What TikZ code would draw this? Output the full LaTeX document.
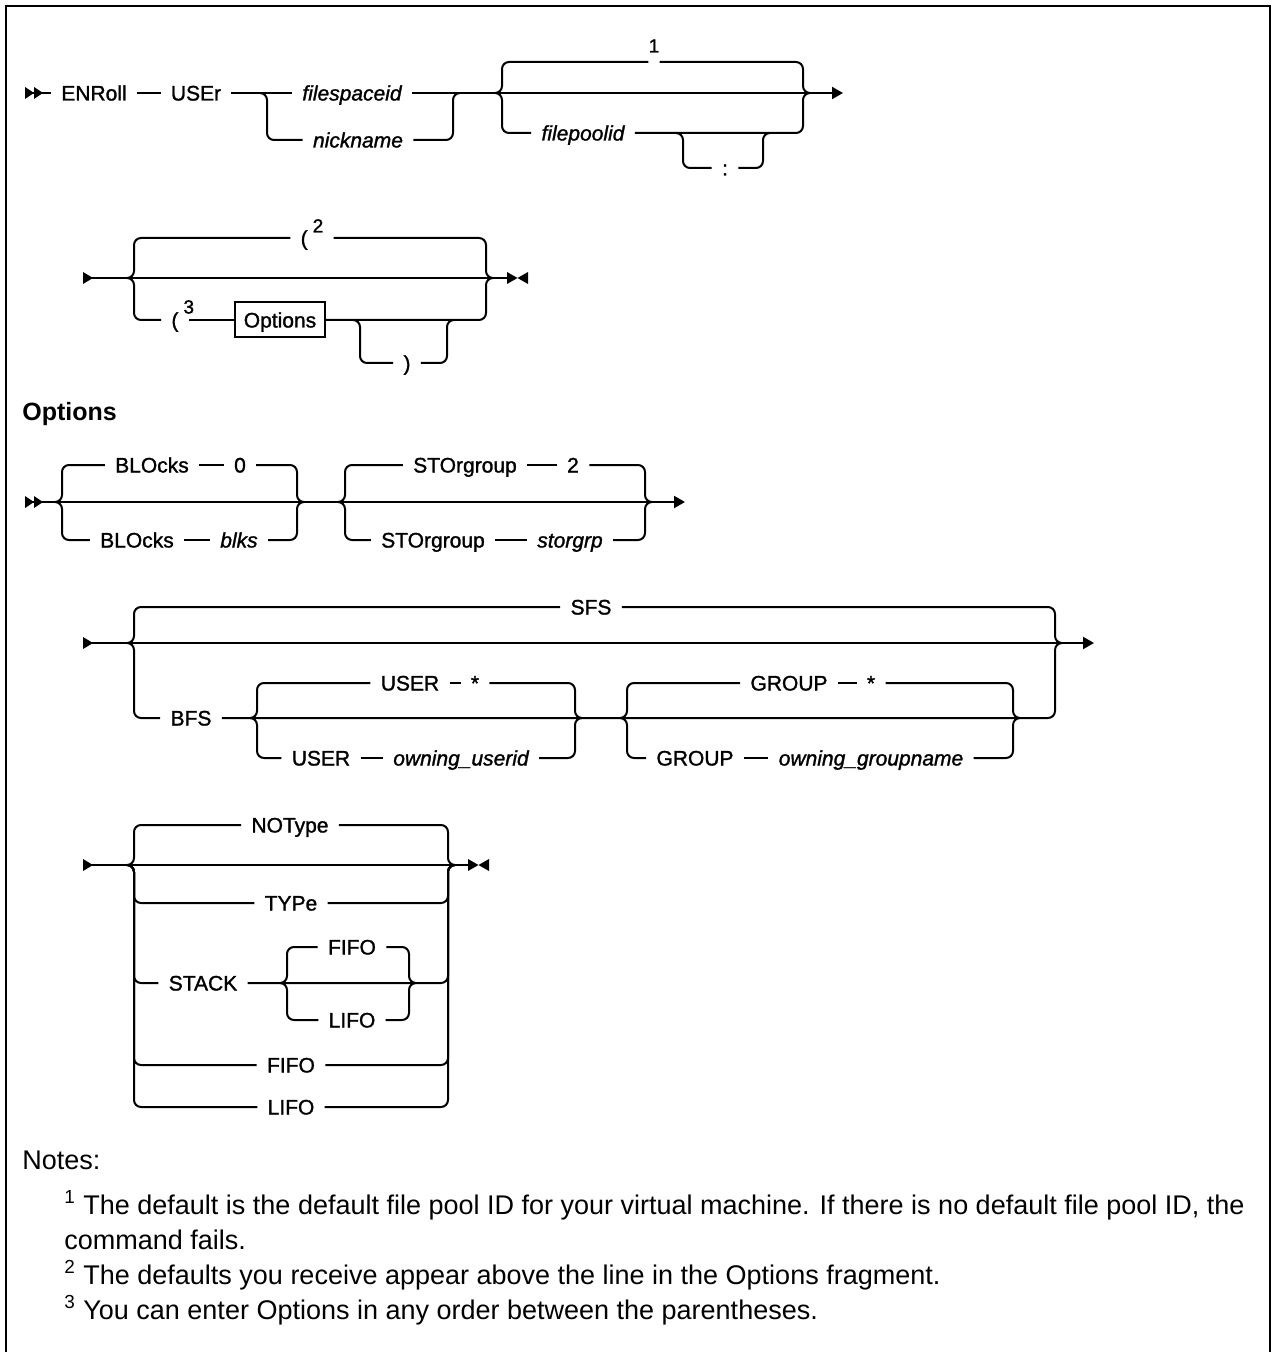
\documentclass[tikz,border=0pt]{standalone}
\usepackage{fontspec}
\setmainfont{Liberation Sans}
\newfontfamily\railfont[BoldFont={Liberation Sans}, BoldFeatures={FakeBold=1.3},
  BoldItalicFont={Liberation Sans Italic}, BoldItalicFeatures={FakeBold=1.3}]{Liberation Sans}
\usetikzlibrary{arrows.meta}
\newcommand\railsize{\fontsize{10.5}{12}\selectfont}
\newcommand\supsize{\fontsize{9.5}{10}\selectfont}
\newcommand\notesize{\fontsize{13.5}{17.5}\selectfont}
\tikzset{
  boxframe/.style={line width=1.2pt},
  rail/.style={line width=1pt},
  railarrow/.style={rail, -{Triangle[length=5.5pt,width=6pt]}},
  choice/.style={rail, rounded corners=3.5pt},
  kw/.style={font=\railfont\bfseries\railsize, inner xsep=5pt, inner ysep=0pt, text height=7.5pt, text depth=0pt},
  var/.style={kw, font=\railfont\bfseries\railsize\itshape},
  note/.style={font=\notesize, anchor=base west, inner sep=0pt},
  tri/.pic={\fill (0,-6) -- (10,0) -- (0,6) -- cycle;},
  twotri/.pic={\fill (0,-6) -- (9,0) -- (0,6) -- cycle; \fill (9,-6) -- (18,0) -- (9,6) -- cycle;},
  stopmark/.pic={\fill (0,-6) -- (10.5,0) -- (0,6) -- cycle; \fill (21,-6) -- (10.5,0) -- (21,6) -- cycle;},
}
\begin{document}
\begin{tikzpicture}[x=0.5pt,y=-0.5pt]
  \useasboundingbox (0,0) rectangle (1273,1352);
  \draw[boxframe] (6,1352) -- (6,6) -- (1270,6) -- (1270,1352);

  % ENRoll USEr
  \coordinate (s1in) at (25,93);
  \coordinate (s1out) at (843,93);
  \pic at (s1in) {twotri};
  \node[kw] (enroll) at (94,93) {ENRoll};
  \node[kw] (user) at (196,93) {USEr};
  \node[var] (fsid) at (352,93) {filespaceid};
  \node[var] (nick) at (358,140) {nickname};
  \node[kw, inner xsep=0pt] (fn1) at (654,62) {\raisebox{8.5pt}{\supsize 1}};
  \node[var] (fpool) at (583,133) {filepoolid};
  \node[kw] (colon) at (725,168) {:};
  \coordinate (nickL) at (260,93);  \coordinate (nickLv) at (267,93);
  \coordinate (nickRv) at (453,93); \coordinate (nickR) at (460,93);
  \coordinate (poolL) at (495,93);  \coordinate (poolLv) at (502,93);
  \coordinate (poolRv) at (803,93); \coordinate (poolR) at (810,93);
  \coordinate (colL) at (676,133);  \coordinate (colLv) at (683,133);
  \coordinate (colRv) at (763,133); \coordinate (colR) at (770,133);
  \draw[rail] (s1in) -- (enroll);
  \draw[rail] (enroll) -- (user);
  \draw[rail] (user) -- (fsid);
  \draw[railarrow] (fsid) -- (s1out);
  \draw[choice] (nickL) -| (nick.west -| nickLv) -- (nick.west);
  \draw[choice] (nick.east) -- (nick.east -| nickRv) |- (nickR);
  \draw[choice] (poolL) -| (fn1.west -| poolLv) -- (fn1.west);
  \draw[choice] (fn1.east) -- (fn1.east -| poolRv) |- (poolR);
  \draw[choice] (poolL) -| (fpool.west -| poolLv) -- (fpool.west);
  \draw[choice] (fpool.east) -- (fpool.east -| poolRv) |- (poolR);
  \draw[choice] (colL) -| (colon.west -| colLv) -- (colon.west);
  \draw[choice] (colon.east) -- (colon.east -| colRv) |- (colR);

  % parentheses and Options
  \coordinate (s2in) at (83,278);
  \coordinate (s2out) at (507,278);
  \pic at (s2in) {tri};
  \pic at (s2out) {stopmark};
  \draw[rail] (s2in) -- (s2out);
  \node[kw] (lp2) at (312,238) {(\hspace{2.5pt}\raisebox{6.5pt}{\supsize 2}};
  \node[kw] (lp3) at (175,320) {(\rlap{\hspace{2.5pt}\raisebox{7pt}{\supsize 3}}};
  \node[kw, draw, rail, inner xsep=4.5pt, inner ysep=5pt] (optbox) at (280,320) {Options};
  \node[kw] (rp) at (407,363) {)};
  \coordinate (parL) at (127,278);  \coordinate (parLv) at (134,278);
  \coordinate (parRv) at (486,278); \coordinate (parR) at (493,278);
  \coordinate (rpL) at (353,320);   \coordinate (rpLv) at (360,320);
  \coordinate (rpRv) at (447,320);  \coordinate (rpR) at (454,320);
  \draw[choice] (parL) -| (lp2.west -| parLv) -- (lp2.west);
  \draw[choice] (lp2.east) -- (lp2.east -| parRv) |- (parR);
  \draw[choice] (parL) -| (lp3.west -| parLv) -- (lp3.west);
  \draw[rail] (lp3) -- (optbox);
  \draw[choice] (optbox.east) -- (optbox.east -| parRv) |- (parR);
  \draw[choice] (rpL) -| (rp.west -| rpLv) -- (rp.west);
  \draw[choice] (rp.east) -- (rp.east -| rpRv) |- (rpR);

  \node[anchor=base west, inner sep=0pt, font=\bfseries\fontsize{12.5}{14}\selectfont] (opthead) at (22,421) {Options};

  % BLOcks STOrgroup
  \coordinate (s4in) at (25,502);
  \coordinate (s4out) at (685,502);
  \pic at (s4in) {twotri};
  \draw[railarrow] (s4in) -- (s4out);
  \node[kw] (blk0) at (152,465) {BLOcks};
  \node[kw] (zero) at (240,465) {0};
  \node[kw] (blk1) at (137,540) {BLOcks};
  \node[var] (blks) at (239,540) {blks};
  \node[kw] (stor0) at (465,465) {STOrgroup};
  \node[kw] (two) at (573,465) {2};
  \node[kw] (stor1) at (433,540) {STOrgroup};
  \node[var] (storgrp) at (570,540) {storgrp};
  \coordinate (blkL) at (55,502);   \coordinate (blkLv) at (62,502);
  \coordinate (blkRv) at (297,502); \coordinate (blkR) at (304,502);
  \coordinate (stgL) at (338,502);  \coordinate (stgLv) at (345,502);
  \coordinate (stgRv) at (645,502); \coordinate (stgR) at (652,502);
  \draw[choice] (blkL) -| (blk0.west -| blkLv) -- (blk0.west);
  \draw[rail] (blk0) -- (zero);
  \draw[choice] (zero.east) -- (zero.east -| blkRv) |- (blkR);
  \draw[choice] (blkL) -| (blk1.west -| blkLv) -- (blk1.west);
  \draw[rail] (blk1) -- (blks);
  \draw[choice] (blks.east) -- (blks.east -| blkRv) |- (blkR);
  \draw[choice] (stgL) -| (stor0.west -| stgLv) -- (stor0.west);
  \draw[rail] (stor0) -- (two);
  \draw[choice] (two.east) -- (two.east -| stgRv) |- (stgR);
  \draw[choice] (stgL) -| (stor1.west -| stgLv) -- (stor1.west);
  \draw[rail] (stor1) -- (storgrp);
  \draw[choice] (storgrp.east) -- (storgrp.east -| stgRv) |- (stgR);

  % SFS BFS
  \coordinate (s5in) at (83,643);
  \coordinate (s5out) at (1094,643);
  \pic at (s5in) {tri};
  \draw[railarrow] (s5in) -- (s5out);
  \node[kw] (sfs) at (591,607) {SFS};
  \node[kw] (bfs) at (191,718) {BFS};
  \node[kw] (usr0) at (410,683) {USER};
  \node[kw] (star1) at (475,683) {*};
  \node[kw] (usr1) at (321,758) {USER};
  \node[var] (uid) at (461,758) {owning\_userid};
  \node[kw] (grp0) at (789,683) {GROUP};
  \node[kw] (star2) at (871,683) {*};
  \node[kw] (grp1) at (695,758) {GROUP};
  \node[var] (gname) at (871,758) {owning\_groupname};
  \coordinate (fsL) at (127,643);   \coordinate (fsLv) at (134,643);
  \coordinate (fsRv) at (1055,643); \coordinate (fsR) at (1062,643);
  \coordinate (usrL) at (250,718);  \coordinate (usrLv) at (257,718);
  \coordinate (usrRv) at (575,718); \coordinate (usrR) at (582,718);
  \coordinate (grpL) at (620,718);  \coordinate (grpLv) at (627,718);
  \coordinate (grpRv) at (1013,718); \coordinate (grpR) at (1020,718);
  \draw[choice] (fsL) -| (sfs.west -| fsLv) -- (sfs.west);
  \draw[choice] (sfs.east) -- (sfs.east -| fsRv) |- (fsR);
  \draw[choice] (fsL) -| (bfs.west -| fsLv) -- (bfs.west);
  \draw[choice] (bfs.east) -- (bfs.east -| fsRv) |- (fsR);
  \draw[choice] (usrL) -| (usr0.west -| usrLv) -- (usr0.west);
  \draw[rail] (usr0) -- (star1);
  \draw[choice] (star1.east) -- (star1.east -| usrRv) |- (usrR);
  \draw[choice] (usrL) -| (usr1.west -| usrLv) -- (usr1.west);
  \draw[rail] (usr1) -- (uid);
  \draw[choice] (uid.east) -- (uid.east -| usrRv) |- (usrR);
  \draw[choice] (grpL) -| (grp0.west -| grpLv) -- (grp0.west);
  \draw[rail] (grp0) -- (star2);
  \draw[choice] (star2.east) -- (star2.east -| grpRv) |- (grpR);
  \draw[choice] (grpL) -| (grp1.west -| grpLv) -- (grp1.west);
  \draw[rail] (grp1) -- (gname);
  \draw[choice] (gname.east) -- (gname.east -| grpRv) |- (grpR);

  % NOType TYPe STACK
  \coordinate (s6in) at (83,865);
  \coordinate (s6out) at (468,865);
  \pic at (s6in) {tri};
  \pic at (s6out) {stopmark};
  \draw[rail] (s6in) -- (s6out);
  \node[kw] (notype) at (290,825) {NOType};
  \node[kw] (typ) at (291,903) {TYPe};
  \node[kw] (stack) at (203,983) {STACK};
  \node[kw] (fifo0) at (352,947) {FIFO};
  \node[kw] (lifo0) at (352,1020) {LIFO};
  \node[kw] (fifo1) at (291,1065) {FIFO};
  \node[kw] (lifo1) at (291,1107) {LIFO};
  \coordinate (typL) at (127,865);  \coordinate (typLv) at (134,865);
  \coordinate (typRv) at (448,865); \coordinate (typR) at (455,865);
  \coordinate (stkL) at (280,983);  \coordinate (stkLv) at (287,983);
  \coordinate (stkRv) at (409,983); \coordinate (stkR) at (416,983);
  \foreach \row in {notype,typ,stack,fifo1,lifo1} {
    \draw[choice] (typL) -| (\row.west -| typLv) -- (\row.west);
    \draw[choice] (\row.east) -- (\row.east -| typRv) |- (typR);
  }
  \foreach \row in {fifo0,lifo0} {
    \draw[choice] (stkL) -| (\row.west -| stkLv) -- (\row.west);
    \draw[choice] (\row.east) -- (\row.east -| stkRv) |- (stkR);
  }

  % notes
  \node[note] (notes) at (22,1169) {Notes:};
  \node[note] (note1) at (64,1214) {\textsuperscript{1} The default is the default file pool ID for your virtual machine. If there is no default file pool ID, the};
  \node[note] (note1b) at (64,1249) {command fails.};
  \node[note] (note2) at (64,1284) {\textsuperscript{2} The defaults you receive appear above the line in the Options fragment.};
  \node[note] (note3) at (64,1319) {\textsuperscript{3} You can enter Options in any order between the parentheses.};
\end{tikzpicture}
\end{document}
